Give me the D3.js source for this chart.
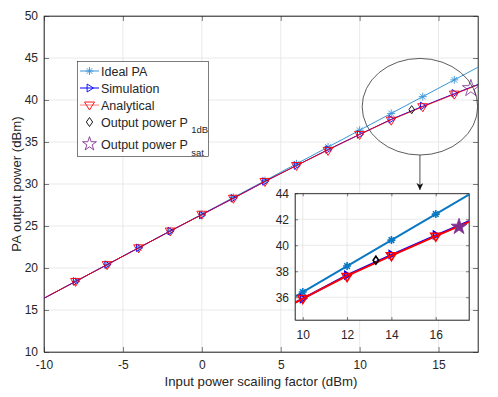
<!DOCTYPE html>
<html>
<head>
<meta charset="utf-8">
<script src="https://cdn.jsdelivr.net/npm/d3@7"></script>
<style>
  body { margin:0; background:#fff; }
  svg { font-family: "Liberation Sans", Arial, sans-serif; }
  .tick text { fill:#262626; }
</style>
</head>
<body>
<div id="chart-area"></div>
<script>

// data
var inputDbm   = [-8,-6,-4,-2,0,2,4,6,8,10,12,14,16];
var idealPa    = [18.4,20.4,22.4,24.4,26.4,28.4,30.4,32.4,34.4,36.4,38.4,40.4,42.4];
var simulation = [18.4,20.4,22.4,24.4,26.3,28.3,30.3,32.2,34.1,35.9,37.7,39.3,40.8];
var analytical = [18.4,20.4,22.4,24.4,26.4,28.3,30.3,32.2,34.0,35.9,37.6,39.2,40.7];

var lineX          = [-10,-8,-6,-4,-2,0,2,4,6,8,10,12,14,16,17.5];
var idealLine      = [16.4,18.4,20.4,22.4,24.4,26.4,28.4,30.4,32.4,34.4,36.4,38.4,40.4,42.4,43.9];
var simulationLine = [16.4,18.4,20.4,22.4,24.4,26.35,28.3,30.3,32.2,34.1,35.9,37.7,39.25,40.75,41.85];
var analyticalLine = [16.4,18.4,20.4,22.4,24.4,26.35,28.3,30.3,32.2,34.05,35.9,37.65,39.2,40.7,41.8];

var p1dB = {x:13.3, y:38.85};
var pSat = {x:17.05, y:41.5};

var xTicks = [-10,-5,0,5,10,15];
var yTicks = [10,15,20,25,30,35,40,45,50];
var insetXTicks = [10,12,14,16];
var insetYTicks = [36,38,40,42,44];

var legendLabels = ["Ideal PA","Simulation","Analytical","Output power P","Output power P"];
var legendSubs = ["","","","1dB","sat"];

var zoomArea = {cx:13.82, cy:39.2, rx:3.66, ry:5.75};

var total_width = 498, total_height = 397;
var svg = d3.select('#chart-area').append('svg')
            .attr("width",total_width)
            .attr("height",total_height);

var x = d3.scaleLinear().domain([-10,17.5]).range([44,478]);
var y = d3.scaleLinear().domain([10,50]).range([352,16]);

var ideal_col = "#3a95da", sim_col = "#0000ff", ana_col = "#ff0000",
    sat_col = "#7e2f8e", axis_col = "#262626", grid_col = "#e3e3e3";

function asterisk(r){
  var a = r*0.707;
  return "M"+(-r)+",0L"+r+",0M0,"+(-r)+"L0,"+r+
         "M"+(-a)+","+(-a)+"L"+a+","+a+"M"+(-a)+","+a+"L"+a+","+(-a);
}
function triRight(r){ return "M"+(r)+",0L"+(-r*0.6)+","+(-r)+"L"+(-r*0.6)+","+r+"Z"; }
function triDown(r){ return "M0,"+r+"L"+(-r)+","+(-r*0.6)+"L"+r+","+(-r*0.6)+"Z"; }
function diamond(r){ return "M0,"+(-r)+"L"+(r*0.7)+",0L0,"+r+"L"+(-r*0.7)+",0Z"; }
function star(area){ return d3.symbol().type(d3.symbolStar).size(area)(); }

function drawPanel(g, xs, ys, xt, yt, opts){
  var x0 = xs.range()[0], x1 = xs.range()[1], y0 = ys.range()[0], y1 = ys.range()[1];
  g.append("rect").attr("x",x0).attr("y",y1).attr("width",x1-x0).attr("height",y0-y1)
   .attr("fill","#fff");
  // grid
  g.selectAll(".gx").data(xt).enter().append("line")
   .attr("x1",d=>xs(d)).attr("x2",d=>xs(d)).attr("y1",y0).attr("y2",y1)
   .attr("stroke",grid_col).attr("stroke-width",0.8);
  g.selectAll(".gy").data(yt).enter().append("line")
   .attr("y1",d=>ys(d)).attr("y2",d=>ys(d)).attr("x1",x0).attr("x2",x1)
   .attr("stroke",grid_col).attr("stroke-width",0.8);

  var tl = opts.tick;
  var fmt = d => String(d);
  var xAxis = d3.axisBottom(xs).tickValues(xt).tickSizeInner(-tl).tickSizeOuter(0)
                .tickPadding(opts.padX).tickFormat(fmt);
  var yAxis = d3.axisLeft(ys).tickValues(yt).tickSizeInner(-tl).tickSizeOuter(0)
                .tickPadding(opts.padY).tickFormat(fmt);
  var xTop = d3.axisTop(xs).tickValues(xt).tickSizeInner(-tl).tickSizeOuter(0).tickFormat("");
  var yRight = d3.axisRight(ys).tickValues(yt).tickSizeInner(-tl).tickSizeOuter(0).tickFormat("");

  [[xAxis,"translate(0,"+y0+")"],[yAxis,"translate("+x0+",0)"],
   [xTop,"translate(0,"+y1+")"],[yRight,"translate("+x1+",0)"]].forEach(function(a){
    var ax = g.append("g").attr("transform",a[1]).call(a[0]);
    ax.selectAll("path,line").attr("stroke",axis_col).attr("stroke-width",0.6);
    ax.selectAll("text").attr("font-size",opts.font+"px").attr("font-family","Liberation Sans, Arial, sans-serif");
  });
  g.append("rect").attr("x",x0).attr("y",y1).attr("width",x1-x0).attr("height",y0-y1)
   .attr("fill","none").attr("stroke",axis_col).attr("stroke-width",0.6);
}

function drawSeries(g, xs, ys, opts, clipId){
  var lw = opts.lw;
  var line = d3.line().x(d=>xs(d[0])).y(d=>ys(d[1]));
  var cg = g.append("g").attr("clip-path","url(#"+clipId+")");
  var ms = opts.ms;

  cg.append("path").datum(d3.zip(lineX,idealLine)).attr("d",line)
    .attr("fill","none").attr("stroke",opts.idealCol).attr("stroke-width",lw);
  cg.selectAll(".mi").data(d3.zip(inputDbm,idealPa)).enter().append("path")
    .attr("transform",d=>"translate("+xs(d[0])+","+ys(d[1])+")")
    .attr("d",asterisk(ms*0.8)).attr("fill","none").attr("stroke",opts.idealCol).attr("stroke-width",opts.mlw);

  cg.append("path").datum(d3.zip(lineX,simulationLine)).attr("d",line)
    .attr("fill","none").attr("stroke",sim_col).attr("stroke-width",lw);
  cg.selectAll(".ms").data(d3.zip(inputDbm,simulation)).enter().append("path")
    .attr("transform",d=>"translate("+xs(d[0])+","+ys(d[1])+")")
    .attr("d",triRight(ms*0.75)).attr("fill","none").attr("stroke",sim_col).attr("stroke-width",opts.mlw);

  cg.append("path").datum(d3.zip(lineX,analyticalLine)).attr("d",line)
    .attr("fill","none").attr("stroke",ana_col).attr("stroke-width",lw).attr("opacity",opts.anaOpacity);
  cg.selectAll(".ma").data(d3.zip(inputDbm,analytical)).enter().append("path")
    .attr("transform",d=>"translate("+xs(d[0])+","+ys(d[1])+")")
    .attr("d",triDown(ms)).attr("fill","none").attr("stroke",ana_col).attr("stroke-width",opts.mlw);

  cg.append("path").attr("transform","translate("+xs(p1dB.x)+","+ys(p1dB.y)+")")
    .attr("d",diamond(ms*0.8)).attr("fill","none").attr("stroke","#000").attr("stroke-width",opts.mlw);
  cg.append("path").attr("transform","translate("+xs(pSat.x)+","+ys(pSat.y)+") translate(0,1)")
    .attr("d",star(opts.starArea)).attr("fill",opts.starFill).attr("stroke",sat_col).attr("stroke-width",0.8);
}

var defs = svg.append("defs");
defs.append("clipPath").attr("id","clipMain").append("rect")
    .attr("x",44).attr("y",16).attr("width",434).attr("height",336);

var main = svg.append("g");
drawPanel(main, x, y, xTicks, yTicks, {tick:5, font:12, padX:8, padY:6});
drawSeries(main, x, y, {lw:1, mlw:0.9, ms:5, idealCol:ideal_col, starArea:90, starFill:"none", anaOpacity:0.85}, "clipMain");

// zoom ellipse and arrow
svg.append("ellipse")
   .attr("cx",x(zoomArea.cx)).attr("cy",y(zoomArea.cy))
   .attr("rx",x(zoomArea.cx+zoomArea.rx)-x(zoomArea.cx))
   .attr("ry",y(zoomArea.cy)-y(zoomArea.cy+zoomArea.ry))
   .attr("fill","none").attr("stroke","#333").attr("stroke-width",0.8);
defs.append("marker").attr("id","arrow").attr("viewBox","0 0 10 10")
   .attr("refX",10).attr("refY",5).attr("markerWidth",7).attr("markerHeight",7)
   .attr("markerUnits","userSpaceOnUse").attr("orient","auto")
   .append("path").attr("d","M0,0L10,5L0,10L3,5Z").attr("fill","#111");
svg.append("line")
   .attr("x1",x(zoomArea.cx)).attr("x2",x(zoomArea.cx))
   .attr("y1",y(zoomArea.cy-zoomArea.ry)).attr("y2",190)
   .attr("stroke","#222").attr("stroke-width",0.8).attr("marker-end","url(#arrow)");

// inset
var xi = d3.scaleLinear().domain([9.65,17.5]).range([295,469]);
var yi = d3.scaleLinear().domain([34.25,44]).range([320,193.3]);
defs.append("clipPath").attr("id","clipInset").append("rect")
    .attr("x",295).attr("y",193.3).attr("width",174).attr("height",126.7);
var inset = svg.append("g");
drawPanel(inset, xi, yi, insetXTicks, insetYTicks, {tick:3, font:12, padX:10, padY:6});
drawSeries(inset, xi, yi, {lw:2, mlw:1.6, ms:5, idealCol:"#0a78c2", starArea:80, starFill:sat_col, anaOpacity:1}, "clipInset");

// axis labels
svg.append("text").attr("x",261).attr("y",386).attr("text-anchor","middle")
   .attr("font-size","13.2px").attr("fill",axis_col).text("Input power scailing factor (dBm)");
svg.append("text").attr("transform","translate(21,184) rotate(-90)").attr("text-anchor","middle")
   .attr("font-size","13.2px").attr("fill",axis_col).text("PA output power (dBm)");

// legend
var leg = svg.append("g");
leg.append("rect").attr("x",77.5).attr("y",61.5).attr("width",131).attr("height",95)
   .attr("fill","#fff").attr("stroke",axis_col).attr("stroke-width",0.6);
var legY = [71,88,105,122,144];
var legCol = [ideal_col, sim_col, ana_col, "#000", sat_col];
var legMarks = [asterisk(4), triRight(4), triDown(5), diamond(4.5), star(60)];
legY.forEach(function(ly,i){
  if(i<3){
    leg.append("line").attr("x1",80).attr("x2",99).attr("y1",ly).attr("y2",ly)
       .attr("stroke",legCol[i]).attr("stroke-width",1).attr("opacity",i==2?0.5:1);
  }
  leg.append("path").attr("transform","translate(89.5,"+ly+")").attr("d",legMarks[i])
     .attr("fill","none").attr("stroke",legCol[i]).attr("stroke-width",0.9);
  var t = leg.append("text").attr("x",101).attr("y",ly+4.5).attr("font-size","12.5px").attr("fill",axis_col)
     .text(legendLabels[i]);
  if(legendSubs[i]){
    t.append("tspan").text(" ");
    t.append("tspan").attr("dy",i==3?6:7).attr("font-size","9.5px").text(legendSubs[i]);
  }
});
</script>
</body>
</html>
